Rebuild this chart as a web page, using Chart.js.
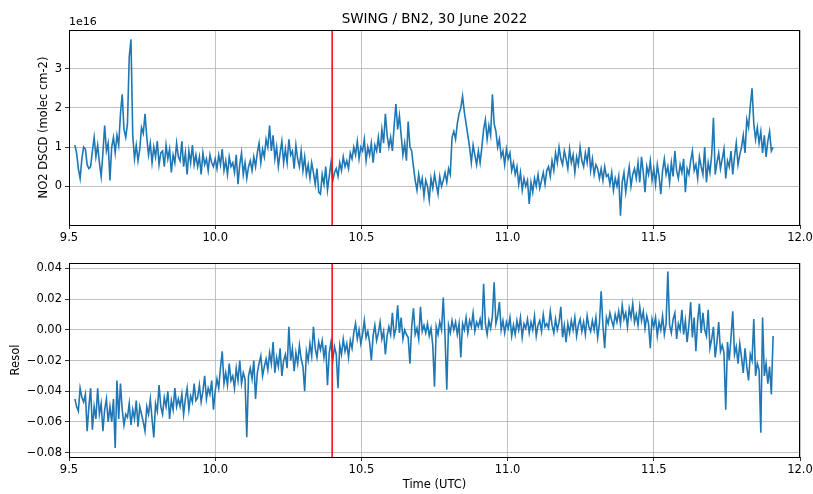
<!DOCTYPE html>
<html>
<head>
<meta charset="utf-8">
<script src="https://cdn.jsdelivr.net/npm/chart.js@4.4.0/dist/chart.umd.min.js"></script>
<style>
  body { margin: 0; background: #fff; }
  #wrap { position: relative; width: 813px; height: 494px; }
  canvas { position: absolute; left: 0; }
  #topChart { top: 0; }
  #botChart { top: 247px; }
</style>
</head>
<body>
<div id="wrap">
  <canvas id="topChart" width="813" height="247"></canvas>
  <canvas id="botChart" width="813" height="247"></canvas>
</div>
<script>
// サンプリング（時刻 UTC、0.006 h 間隔）
const T0 = 9.52;
const DT = 0.006;
const eventTime = 10.4;

const xTicks = [9.5, 10.0, 10.5, 11.0, 11.5, 12.0];
const topTicks = [0, 1, 2, 3];
const botTicks = [-0.08, -0.06, -0.04, -0.02, 0.0, 0.02, 0.04];

// NO2 DSCD（単位 1e16 molec cm-2）
const no2Dscd = [
  1.05, 0.85, 0.45, 0.2, 0.7, 1.0, 0.95, 0.55, 0.45, 0.5,
  0.9, 1.25, 0.75, 1.05, 0.6, 0.25, 0.85, 1.55, 0.9, 1.1,
  0.15, 1.0, 1.25, 0.85, 1.3, 1.05, 1.85, 2.35, 1.45, 1.25,
  1.6, 3.3, 3.75, 1.3, 0.7, 1.05, 0.65, 0.95, 1.5, 1.35,
  1.85, 1.25, 0.8, 1.1, 0.6, 1.0, 0.75, 1.15, 0.55, 0.85,
  0.9, 0.5, 1.05, 0.7, 0.95, 0.35, 0.8, 0.6, 1.1, 0.75,
  0.65, 1.15, 0.5, 0.85, 0.3, 0.9, 0.6, 1.05, 0.55, 0.8,
  0.5, 0.75, 0.3, 0.85, 0.55, 0.7, 0.4, 0.8, 0.6, 0.5,
  0.7, 0.45, 0.8, 0.55, 0.95, 0.4, 0.65, 0.3, 0.75, 0.5,
  0.6, 0.35, 0.8, 0.05, 0.55, 0.85, 0.3, 0.6, 0.2, 0.5,
  0.65, 0.4, 0.75, 0.5, 0.85, 1.1, 0.6, 0.95, 0.75, 1.2,
  1.0, 1.55, 0.9, 1.3, 0.7, 1.0, 0.5, 0.85, 1.15, 0.6,
  0.95, 0.6, 1.2, 0.8, 0.9, 0.45, 1.05, 0.7, 0.5, 0.9,
  0.4, 0.75, 0.3, 0.55, 0.2, 0.6, 0.35, 0.05, 0.45, -0.15,
  -0.2, 0.3, 0.05, 0.5, -0.1, 0.25, 0.6, 0.15, 0.35, 0.45,
  0.25, 0.6, 0.4, 0.75, 0.5, 0.65, 0.45, 0.85, 0.7, 1.0,
  0.8, 1.15, 0.7, 1.0, 0.9, 1.2, 0.65, 1.0, 0.8, 1.1,
  0.6, 1.05, 0.9, 1.25, 0.85, 1.45, 1.1, 1.85, 1.3, 1.0,
  1.25, 0.9, 1.55, 2.1, 1.45, 1.8, 1.3, 0.8, 1.1, 0.65,
  1.65, 1.0, 0.9, 0.5, 0.15, -0.1, 0.3, 0.0, 0.2, -0.25,
  0.15, 0.0, -0.35, 0.2, -0.05, 0.3, 0.05, -0.2, 0.25, 0.0,
  0.15, 0.35, 0.1, 0.45, 0.3, 1.25, 1.4, 1.2, 1.6, 1.85,
  2.0, 2.3, 1.9, 1.6, 1.3, 1.0, 0.6, 1.05, 0.8, 0.55,
  0.9, 0.6, 1.0, 1.45, 1.7, 1.2, 1.55, 1.3, 2.35, 1.6,
  1.4, 1.0, 1.2, 0.75, 0.9, 0.55, 0.95, 0.7, 0.85, 0.4,
  0.6, 0.3, 0.5, 0.05, 0.35, -0.1, 0.2, 0.0, 0.15, -0.45,
  0.1, -0.15, 0.2, 0.0, 0.3, -0.05, 0.15, 0.35, 0.05, 0.4,
  0.5, 0.25, 0.65, 0.4, 0.85, 0.6, 1.0, 0.7, 0.55, 0.9,
  0.7, 0.45, 0.95, 0.6, 0.8, 0.35, 0.75, 0.55, 1.0, 0.65,
  0.5, 0.85, 0.6, 1.0, 0.4, 0.7, 0.3, 0.55, 0.45, 0.2,
  0.45, 0.15, 0.5, 0.25, 0.3, 0.05, 0.35, -0.1, 0.2, 0.0,
  0.25, -0.75, 0.1, 0.35, -0.15, 0.2, 0.5, 0.0, 0.3, 0.45,
  0.2, 0.6, 0.1, 0.75, 0.35, -0.15, 0.5, 0.3, 0.65, 0.15,
  0.45, 0.05, 0.55, 0.25, -0.2, 0.4, 0.7, 0.3, 0.5, 0.1,
  0.6, 0.25, 0.9, 0.4, 0.2, 0.55, 0.35, 0.7, -0.15, 0.45,
  0.3, 0.65, 0.9, 0.4, 0.55, 0.2, 0.75, 0.5, 0.3, 1.0,
  0.1, 0.6, 0.35, 0.8, 1.75, 0.3, 0.6, 0.85, 0.45, 0.7,
  0.95, 0.2, 0.65, 0.5, 0.9, 0.3, 0.75, 1.1, 0.55, 0.8,
  1.0, 1.3, 0.85, 1.7, 1.5, 2.05, 2.5, 1.6, 1.2, 1.5,
  1.1, 1.4, 0.85, 1.3, 0.75, 1.15, 1.4, 0.9, 1.0
];

// フィット残差
const resol = [
  -0.045, -0.05, -0.053, -0.038, -0.044, -0.047, -0.042, -0.066, -0.05, -0.038,
  -0.065, -0.05, -0.058, -0.038, -0.055, -0.048, -0.066, -0.052, -0.045, -0.06,
  -0.05, -0.06, -0.045, -0.077, -0.033, -0.058, -0.035, -0.052, -0.062, -0.055,
  -0.057, -0.048, -0.062, -0.052, -0.058, -0.046, -0.063, -0.05, -0.055, -0.06,
  -0.066, -0.05, -0.055, -0.045, -0.058, -0.07, -0.048, -0.053, -0.036, -0.05,
  -0.055, -0.044, -0.05, -0.04, -0.058, -0.046, -0.052, -0.038, -0.05, -0.045,
  -0.05, -0.042, -0.055, -0.045, -0.038, -0.052, -0.043, -0.047, -0.035, -0.046,
  -0.044, -0.036, -0.047, -0.04, -0.03, -0.045, -0.038, -0.042, -0.033, -0.052,
  -0.04, -0.032, -0.038, -0.025, -0.014, -0.035, -0.028, -0.036, -0.022, -0.033,
  -0.03, -0.038, -0.025, -0.033, -0.02, -0.035, -0.028, -0.032, -0.07, -0.03,
  -0.025, -0.032, -0.02, -0.045, -0.028, -0.022, -0.017, -0.03, -0.024, -0.019,
  -0.026, -0.015, -0.022, -0.008, -0.028, -0.018, -0.024, -0.012, -0.03, -0.02,
  -0.016, -0.025, 0.002, -0.02, -0.012, -0.027, -0.015, -0.022, -0.01, -0.019,
  -0.024, -0.04, -0.014, -0.02, -0.009, -0.017, 0.002, -0.012, -0.018, -0.008,
  -0.013, -0.007, -0.018, -0.01, -0.036, -0.015, -0.008, -0.02, -0.011, -0.016,
  -0.038, -0.01, -0.016, -0.006, -0.014, -0.009, -0.018, -0.007, -0.012, -0.002,
  0.004, -0.006, 0.0, -0.009, -0.003, 0.006, -0.005, -0.001, -0.008, -0.02,
  -0.004, 0.003, -0.007, -0.002, 0.005, -0.006, -0.001, -0.016, -0.004, 0.002,
  -0.003, 0.011, -0.004, 0.001, 0.016, -0.002, 0.008, -0.006, 0.0, -0.003,
  -0.005, -0.022, 0.002, 0.014, -0.003, 0.001, -0.006, 0.015, -0.001, 0.003,
  -0.002, 0.004, -0.004, 0.001, -0.01, -0.037, 0.002, -0.003, 0.005, 0.0,
  0.021, -0.004, -0.039, 0.003, -0.002, 0.006, 0.0, 0.005, -0.003, 0.004,
  -0.018, 0.004, 0.0, 0.008, -0.002, 0.006, 0.002, 0.011, -0.001, 0.005,
  0.002, 0.007, 0.0, 0.03, 0.004, -0.003, 0.006, 0.001, 0.009, 0.031,
  0.004, 0.009, 0.018, 0.0, 0.006, -0.002, 0.005, 0.001, 0.008, -0.004,
  0.003, -0.003, 0.006, 0.0, 0.008, -0.005, 0.004, 0.001, 0.007, -0.002,
  0.005, 0.0, 0.009, -0.004, 0.003, 0.006, -0.001, 0.01, 0.002, 0.004,
  0.001, 0.012, 0.003, -0.002, 0.007, 0.0, 0.005, 0.015, -0.005, 0.003,
  -0.008, 0.004, -0.002, 0.006, 0.0, 0.008, -0.004, 0.003, 0.007, -0.001,
  0.005, -0.003, 0.009, 0.002, -0.001, 0.006, 0.0, 0.008, -0.005, 0.004,
  0.025, 0.003, -0.012, 0.008, 0.004, 0.011, 0.006, 0.002, 0.01, 0.005,
  0.012, 0.004, 0.016, 0.007, 0.011, 0.002, 0.014, 0.008, 0.017, 0.005,
  0.01, 0.003, 0.015, 0.006, 0.012, 0.001, 0.009, 0.004, -0.012, 0.007,
  0.002, 0.008, -0.004, 0.005, 0.0, 0.009, -0.003, 0.004, 0.038, 0.003,
  -0.002, 0.007, 0.011, -0.006, 0.004, 0.0, 0.013, -0.003, 0.006, -0.008,
  0.003, 0.018, -0.005, 0.008, -0.014, 0.006, 0.017, -0.002, 0.011, 0.0,
  -0.004, 0.013, -0.012, -0.006, 0.002, -0.018, -0.008, 0.005, -0.014, -0.01,
  -0.015, -0.052, -0.008, -0.02, -0.005, 0.012, -0.016, -0.011, -0.022, -0.009,
  -0.018, -0.028, -0.012, -0.024, -0.033, -0.016, -0.02, 0.007, -0.03, -0.022,
  -0.026, -0.067, 0.008, -0.03, -0.022, -0.035, -0.024, -0.042, -0.004
];

const FONT = "'DejaVu Sans', sans-serif";
const BLUE = "#1f77b4";

function toPoints(vals) {
  return vals.map((v, i) => ({ x: T0 + i * DT, y: v }));
}

// 枠線・タイトル描画
const framePlugin = {
  id: "frame",
  afterDraw(chart, args, opts) {
    const { ctx, chartArea: a } = chart;
    ctx.save();
    ctx.strokeStyle = "#000";
    ctx.lineWidth = 1;
    ctx.strokeRect(a.left + 0.5, a.top + 0.5, a.right - a.left - 1, a.bottom - a.top);
    ctx.fillStyle = "#000";
    if (opts.title) {
      ctx.font = "13.5px " + FONT;
      ctx.textAlign = "center";
      ctx.textBaseline = "middle";
      ctx.fillText(opts.title, (a.left + a.right) / 2, 19);
    }
    if (opts.offsetText) {
      ctx.font = "11px " + FONT;
      ctx.textAlign = "left";
      ctx.textBaseline = "bottom";
      ctx.fillText(opts.offsetText, a.left, a.top - 2);
    }
    ctx.restore();
  },
};

function makeChart(id, opt) {
  const ctx = document.getElementById(id).getContext("2d");
  return new Chart(ctx, {
    type: "line",
    data: {
      datasets: [
        {
          data: [{ x: eventTime, y: opt.yMin }, { x: eventTime, y: opt.yMax }],
          borderColor: "#ff0000",
          borderWidth: 1.5,
          pointRadius: 0,
          order: 0,
        },
        {
          data: toPoints(opt.values),
          borderColor: BLUE,
          borderWidth: 1.6,
          pointRadius: 0,
          tension: 0,
          order: 1,
        },
      ],
    },
    options: {
      responsive: false,
      devicePixelRatio: 1,
      animation: false,
      layout: { padding: opt.padding },
      plugins: {
        legend: { display: false },
        tooltip: { enabled: false },
        frame: { title: opt.title, offsetText: opt.offsetText },
      },
      scales: {
        x: {
          type: "linear",
          min: 9.5,
          max: 12.0,
          afterBuildTicks: (s) => { s.ticks = xTicks.map((v) => ({ value: v })); },
          afterFit: (s) => {
            s.height = opt.xHeight;
            s.paddingLeft = 0;
            s.paddingRight = 0;
          },
          grid: { color: "#b0b0b0", lineWidth: 0.8, tickColor: "#000", tickLength: 4 },
          border: { display: true, color: "#000", width: 1 },
          ticks: {
            color: "#000",
            padding: 2,
            maxRotation: 0,
            font: { family: FONT, size: 11.5 },
            callback: (v) => v.toFixed(1),
          },
          title: {
            display: !!opt.xTitle,
            text: opt.xTitle,
            color: "#000",
            font: { family: FONT, size: 11.5 },
            padding: { top: 0, bottom: 2 },
          },
        },
        y: {
          min: opt.yMin,
          max: opt.yMax,
          afterBuildTicks: (s) => { s.ticks = opt.yTicks.map((v) => ({ value: v })); },
          afterFit: (s) => {
            s.width = opt.yWidth;
            s.paddingTop = 0;
            s.paddingBottom = 0;
          },
          grid: { color: "#b0b0b0", lineWidth: 0.8, tickColor: "#000", tickLength: 4 },
          border: { display: true, color: "#000", width: 1 },
          ticks: {
            color: "#000",
            padding: 3,
            font: { family: FONT, size: 11.5 },
            callback: opt.yFormat,
          },
          title: {
            display: true,
            text: opt.yTitle,
            color: "#000",
            font: { family: FONT, size: 11.5 },
          },
        },
      },
    },
    plugins: [framePlugin],
  });
}

makeChart("topChart", {
  values: no2Dscd,
  yMin: -0.99,
  yMax: 3.99,
  yTicks: topTicks,
  yFormat: (v) => String(v),
  yTitle: "NO2 DSCD (molec cm-2)",
  title: "SWING / BN2, 30 June 2022",
  offsetText: "1e16",
  padding: { left: 33, right: 13, top: 30, bottom: 0 },
  yWidth: 36,
  xHeight: 22,
});

makeChart("botChart", {
  values: resol,
  yMin: -0.0828,
  yMax: 0.0435,
  yTicks: botTicks,
  yFormat: (v) => (v < -1e-9 ? "\u2212" : "") + Math.abs(v).toFixed(2),
  yTitle: "Resol",
  xTitle: "Time (UTC)",
  padding: { left: 5, right: 13, top: 16, bottom: 0 },
  yWidth: 64,
  xHeight: 37,
});
</script>
</body>
</html>
